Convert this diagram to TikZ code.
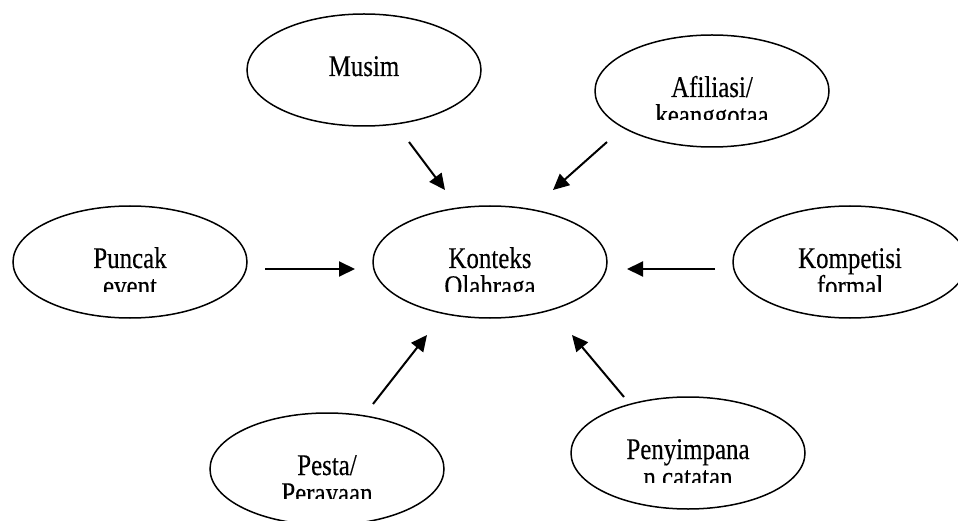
\documentclass[tikz,border=0pt]{standalone}
\usepackage{fontspec}
\setmainfont{Liberation Serif}[FakeStretch=0.83,FakeBold=0.3]
\usetikzlibrary{arrows.meta,calc,shapes.geometric}
\tikzset{
  ell/.style={draw=black, line width=1.5pt, ellipse, minimum width=234pt, minimum height=112pt, inner sep=0pt},
  lbl/.style={anchor=base, inner sep=0pt, font=\fontsize{30}{30}\selectfont},
  arr/.style={line width=2pt, -{Triangle[length=16pt,width=15pt]}}
}
\begin{document}
\begin{tikzpicture}[x=1pt,y=-1pt]
\useasboundingbox (0,0) rectangle (958,521);
% ellipses
\node[ell] (musim) at (364,70) {};
\node[ell] (afil) at (712,91) {};
\node[ell] (puncak) at (130,262) {};
\node[ell] (konteks) at (490,262) {};
\node[ell] (komp) at (850,262) {};
\node[ell] (pesta) at (327,469) {};
\node[ell] (peny) at (688,453) {};
% labels
\node[lbl] (tmusim) at (364,76) {Musim};
\node[lbl] (tafil1) at (712,97) {Afiliasi/};
\begin{scope}\clip (600,90) rectangle (820,120);
\node[lbl] (tafil2) at (712,125) {keanggotaa};
\end{scope}
\node[lbl] (tpun1) at (130,268) {Puncak};
\begin{scope}\clip (20,260) rectangle (240,291);
\node[lbl] (tpun2) at (130,296) {event};
\end{scope}
\node[lbl] (tkon1) at (490,268) {Konteks};
\begin{scope}\clip (380,260) rectangle (600,291);
\node[lbl] (tkon2) at (490,296) {Olahraga};
\end{scope}
\node[lbl] (tkom1) at (850,268) {Kompetisi};
\begin{scope}\clip (740,260) rectangle (958,291);
\node[lbl] (tkom2) at (850,296) {formal};
\end{scope}
\node[lbl] (tpes1) at (327,475) {Pesta/};
\begin{scope}\clip (220,470) rectangle (430,498);
\node[lbl] (tpes2) at (327,503) {Perayaan};
\end{scope}
\node[lbl] (tpen1) at (688,459) {Penyimpana};
\begin{scope}\clip (580,450) rectangle (800,482);
\node[lbl] (tpen2) at (688,487) {n catatan};
\end{scope}
% arrow ends
\coordinate (m1) at (409,142); \coordinate (m2) at (445,190);
\coordinate (a1) at (607,142); \coordinate (a2) at (553,190);
\coordinate (p1) at (265,269); \coordinate (p2) at (355,269);
\coordinate (k1) at (715,269); \coordinate (k2) at (627,269);
\coordinate (s1) at (373,404); \coordinate (s2) at (427,335);
\coordinate (n1) at (624,397); \coordinate (n2) at (572,335);
\draw[arr] (m1) -- (m2);
\draw[arr] (a1) -- (a2);
\draw[arr] (p1) -- (p2);
\draw[arr] (k1) -- (k2);
\draw[arr] (s1) -- (s2);
\draw[arr] (n1) -- (n2);
\end{tikzpicture}
\end{document}
